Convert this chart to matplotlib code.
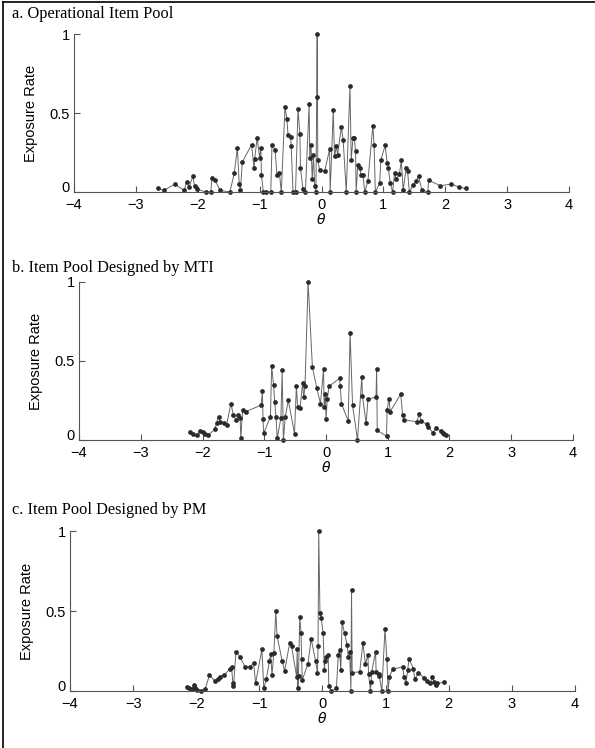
import matplotlib.pyplot as plt
from matplotlib.lines import Line2D

# Panel a: operational item pool (theta, exposure rate), sorted by theta
theta_a = [-2.64, -2.55, -2.37, -2.22, -2.18, -2.14, -2.08, -2.05, -2.02, -1.87,
           -1.79, -1.77, -1.72, -1.64, -1.48, -1.41, -1.36, -1.33, -1.31, -1.28,
           -1.13, -1.09, -1.08, -1.04, -1.00, -0.98, -0.97, -0.94, -0.90, -0.82,
           -0.80, -0.75, -0.72, -0.68, -0.65, -0.59, -0.56, -0.54, -0.50, -0.49,
           -0.46, -0.42, -0.38, -0.35, -0.34, -0.30, -0.26, -0.20, -0.19, -0.17,
           -0.15, -0.13, -0.11, -0.09, -0.07, -0.065, -0.06, -0.03, 0.05, 0.13,
           0.14, 0.19, 0.21, 0.24, 0.26, 0.32, 0.35, 0.40, 0.46, 0.48,
           0.51, 0.53, 0.55, 0.56, 0.585, 0.62, 0.64, 0.67, 0.70, 0.75,
           0.83, 0.85, 0.87, 0.94, 0.96, 1.03, 1.06, 1.08, 1.11, 1.15,
           1.18, 1.21, 1.26, 1.29, 1.32, 1.37, 1.39, 1.42, 1.48, 1.53,
           1.57, 1.62, 1.72, 1.73, 1.92, 2.10, 2.23, 2.34]
rate_a = [0.025, 0.01, 0.05, 0.01, 0.065, 0.03, 0.10, 0.035, 0.02, 0.0,
          0.0, 0.09, 0.075, 0.01, 0.0, 0.12, 0.28, 0.05, 0.01, 0.19,
          0.30, 0.15, 0.21, 0.345, 0.215, 0.28, 0.105, 0.0, 0.0, 0.0,
          0.30, 0.265, 0.11, 0.12, 0.0, 0.54, 0.46, 0.36, 0.35, 0.29,
          0.0, 0.0, 0.525, 0.37, 0.15, 0.02, 0.0, 0.555, 0.215, 0.30,
          0.08, 0.235, 0.035, 0.0, 1.0, 0.6, 0.2, 0.14, 0.13, 0.27,
          0.0, 0.52, 0.225, 0.29, 0.235, 0.41, 0.33, 0.0, 0.67, 0.205,
          0.345, 0.345, 0.26, 0.0, 0.17, 0.15, 0.11, 0.105, 0.0, 0.07,
          0.42, 0.295, 0.0, 0.055, 0.205, 0.295, 0.185, 0.15, 0.06, 0.0,
          0.12, 0.08, 0.115, 0.20, 0.01, 0.155, 0.135, 0.0, 0.045, 0.07,
          0.10, 0.015, 0.0, 0.075, 0.04, 0.05, 0.03, 0.023]

# Panel b: item pool designed by MTI
theta_b = [-2.21, -2.16, -2.09, -2.04, -2.00, -1.96, -1.91, -1.80, -1.77, -1.74,
           -1.71, -1.66, -1.61, -1.54, -1.50, -1.45, -1.42, -1.39, -1.38, -1.35,
           -1.30, -1.05, -1.03, -1.02, -1.01, -0.90, -0.88, -0.85, -0.83, -0.81,
           -0.79, -0.73, -0.71, -0.69, -0.66, -0.61, -0.51, -0.48, -0.46, -0.42,
           -0.38, -0.36, -0.34, -0.29, -0.22, -0.15, -0.09, -0.04, -0.03, -0.01,
           0.0, 0.02, 0.05, 0.22, 0.23, 0.25, 0.36, 0.39, 0.43, 0.51,
           0.58, 0.59, 0.65, 0.68, 0.81, 0.82, 0.83, 0.98, 0.99, 1.02,
           1.04, 1.21, 1.24, 1.26, 1.47, 1.51, 1.54, 1.63, 1.65, 1.73,
           1.78, 1.86, 1.89, 1.91, 1.94]
rate_b = [0.048, 0.036, 0.03, 0.057, 0.053, 0.038, 0.03, 0.067, 0.11, 0.147,
          0.114, 0.105, 0.095, 0.23, 0.158, 0.126, 0.158, 0.137, 0.01, 0.19,
          0.18, 0.22, 0.31, 0.13, 0.042, 0.147, 0.47, 0.35, 0.24, 0.147,
          0.01, 0.14, 0.44, 0.0, 0.147, 0.25, 0.04, 0.34, 0.21, 0.20,
          0.36, 0.27, 0.34, 1.0, 0.46, 0.33, 0.23, 0.45, 0.21, 0.29,
          0.13, 0.26, 0.34, 0.39, 0.34, 0.23, 0.12, 0.68, 0.22, 0.0,
          0.40, 0.28, 0.105, 0.26, 0.27, 0.45, 0.06, 0.025, 0.19, 0.26,
          0.18, 0.29, 0.16, 0.127, 0.116, 0.165, 0.12, 0.10, 0.084, 0.046,
          0.074, 0.057, 0.046, 0.036, 0.03]

# Panel c: item pool designed by PM
theta_c = [-2.15, -2.11, -2.07, -2.04, -2.02, -1.99, -1.93, -1.86, -1.79, -1.71,
           -1.65, -1.62, -1.56, -1.47, -1.44, -1.42, -1.41, -1.37, -1.30, -1.23,
           -1.15, -1.09, -1.06, -0.96, -0.93, -0.89, -0.84, -0.82, -0.80, -0.77,
           -0.74, -0.72, -0.64, -0.60, -0.52, -0.49, -0.41, -0.40, -0.39, -0.38,
           -0.36, -0.34, -0.33, -0.32, -0.23, -0.18, -0.11, -0.08, -0.07, -0.06,
           -0.04, -0.02, 0.01, 0.03, 0.04, 0.06, 0.09, 0.10, 0.14, 0.22,
           0.25, 0.27, 0.29, 0.31, 0.35, 0.39, 0.41, 0.43, 0.45, 0.46,
           0.47, 0.59, 0.64, 0.68, 0.72, 0.73, 0.76, 0.77, 0.78, 0.84,
           0.85, 0.89, 0.90, 0.94, 0.99, 1.02, 1.04, 1.06, 1.11, 1.27,
           1.29, 1.32, 1.35, 1.37, 1.44, 1.46, 1.52, 1.61, 1.66, 1.71,
           1.74, 1.77, 1.80, 1.82, 1.93]
rate_c = [0.027, 0.017, 0.01, 0.037, 0.017, 0.006, 0.0, 0.01, 0.10, 0.065,
          0.073, 0.09, 0.10, 0.135, 0.148, 0.052, 0.03, 0.245, 0.21, 0.152,
          0.152, 0.173, 0.048, 0.26, 0.017, 0.073, 0.19, 0.23, 0.10, 0.24,
          0.50, 0.345, 0.19, 0.125, 0.30, 0.28, 0.09, 0.265, 0.017, 0.094,
          0.465, 0.36, 0.20, 0.07, 0.17, 0.325, 0.19, 0.11, 0.28, 1.0,
          0.485, 0.455, 0.36, 0.13, 0.19, 0.21, 0.225, 0.03, 0.0, 0.017,
          0.225, 0.256, 0.13, 0.43, 0.36, 0.29, 0.21, 0.245, 0.0, 0.63,
          0.115, 0.12, 0.30, 0.17, 0.225, 0.106, 0.0, 0.058, 0.12, 0.245,
          0.12, 0.106, 0.094, 0.0, 0.39, 0.20, 0.0, 0.09, 0.135, 0.152,
          0.09, 0.048, 0.13, 0.20, 0.14, 0.073, 0.115, 0.08, 0.065, 0.048,
          0.09, 0.058, 0.037, 0.048, 0.054]

titles = ['a. Operational Item Pool', 'b. Item Pool Designed by MTI',
          'c. Item Pool Designed by PM']

fig = plt.figure(figsize=(5.95, 7.48), dpi=100)

# axes boxes in figure fractions (left, bottom, width, height)
boxes = [(0.1244, 0.7433, 0.8319, 0.2112),
         (0.1328, 0.4118, 0.8302, 0.2112),
         (0.1176, 0.0762, 0.8488, 0.2139)]
title_y = [0.981, 0.642, 0.318]

panels = [(theta_a, rate_a), (theta_b, rate_b), (theta_c, rate_c)]

for (theta, rate), box, title, ty in zip(panels, boxes, titles, title_y):
    ax = fig.add_axes(box)
    ax.plot(theta, rate, '-', color='#666666', linewidth=0.7,
            marker='o', markersize=2.4, markerfacecolor='#2a2a2a',
            markeredgecolor='#2a2a2a', clip_on=False)
    ax.set_xlim(-4, 4)
    ax.set_ylim(0, 1)
    ax.set_xticks(range(-4, 5))
    ax.set_yticks([0, 0.5, 1])
    ax.set_yticklabels(['0', '0.5', '1'])
    ax.spines['top'].set_visible(False)
    ax.spines['right'].set_visible(False)
    ax.spines['left'].set_color('#555555')
    ax.spines['bottom'].set_color('#555555')
    ax.tick_params(direction='in', length=4, color='#555555', labelsize=10.5)
    ax.tick_params(axis='x', pad=4)
    ax.tick_params(axis='y', pad=3)
    for lab in ax.get_xticklabels() + ax.get_yticklabels():
        lab.set_family('Liberation Sans')
    # the "0" sits on the axis line so it clears the "-4" below it
    ax.get_yticklabels()[0].set_verticalalignment('baseline')
    ax.set_ylabel('Exposure Rate', family='Liberation Sans', fontsize=10.5,
                  labelpad=8)
    ax.set_xlabel(r'$\theta$', fontsize=10, labelpad=0)
    fig.text(0.02, ty, title, family='Liberation Serif', fontsize=11.8,
             ha='left', va='center')

# page frame (top and left edges)
fig.add_artist(Line2D([0.005, 1.0], [0.997, 0.997], color='black', lw=1.2))
fig.add_artist(Line2D([0.005, 0.005], [0.0, 0.997], color='black', lw=1.2))

plt.savefig('out.png', dpi=100)
